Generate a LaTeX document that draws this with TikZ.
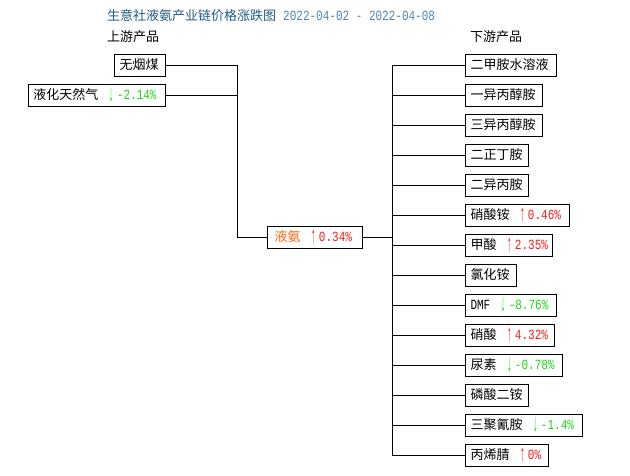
\documentclass[tikz,border=0pt]{standalone}
\usepackage{fontspec}
\usepackage{graphicx}
\setmainfont{Noto Sans CJK SC}
\newfontfamily\cjkf{Noto Sans CJK SC}
\newfontfamily\monof{Liberation Mono}
\definecolor{upred}{HTML}{FF1A1A}
\definecolor{dngreen}{HTML}{19D919}
\definecolor{ammonia}{HTML}{F26A10}
\definecolor{titledark}{HTML}{1E5C86}
\definecolor{titlelight}{HTML}{4A86B4}
\newcommand\cjkfs{\cjkf\fontsize{13pt}{15pt}\selectfont}
\newcommand\numt[1]{\scalebox{0.786}[1]{\monof\fontsize{14pt}{16pt}\selectfont #1}}
\newcommand\arrt[1]{\raisebox{-2pt}{\scalebox{0.38}[1]{\monof\fontsize{24pt}{26pt}\selectfont #1}}}
\newcommand\upv[1]{\hspace{10pt}{\color{upred}\arrt{↑}\hspace{3pt}\numt{#1}}}
\newcommand\dnv[1]{\hspace{10pt}{\color{dngreen}\arrt{↓}\hspace{3pt}\numt{#1}}}
\newcommand\bx[2]{\makebox[#1pt][l]{#2}}
\begin{document}
\begin{tikzpicture}[x=1pt,y=-1pt,
  box/.style={draw, line width=1pt, minimum height=22pt, inner xsep=5pt, inner ysep=0pt,
    text height=11pt, text depth=2pt, font=\cjkfs},
  lnk/.style={draw, line width=1pt},
  hdr/.style={anchor=base west, inner sep=0pt, font=\cjkfs}]
\useasboundingbox[fill=white] (0,0) rectangle (630,475);
% title and headers
\node[hdr] (title) at (107,20) {{\color{titledark}生意社液氨产业链价格涨跌图}\hspace{7pt}{\color{titlelight}\numt{2022-04-02 - 2022-04-08}}};
\node[hdr] (uphdr) at (107,41) {上游产品};
\node[hdr] (dnhdr) at (470,41) {下游产品};
% upstream
\node[box, anchor=east] (u1) at (166,65) {\bx{41}{无烟煤}};
\node[box, anchor=east] (u2) at (166,95) {\bx{127}{液化天然气\dnv{-2.14\%}}};
% centre
\node[box, anchor=west] (ya) at (267,237) {\bx{85}{\hspace{2pt}{\color{ammonia}液氨}\upv{0.34\%}}};
% downstream
\node[box, anchor=west] (d1) at (465,65) {\bx{81}{二甲胺水溶液}};
\node[box, anchor=west] (d2) at (465,95) {\bx{67}{一异丙醇胺}};
\node[box, anchor=west] (d3) at (465,125) {\bx{67}{三异丙醇胺}};
\node[box, anchor=west] (d4) at (465,155) {\bx{53}{二正丁胺}};
\node[box, anchor=west] (d5) at (465,185) {\bx{53}{二异丙胺}};
\node[box, anchor=west] (d6) at (465,215) {\bx{94}{硝酸铵\upv{0.46\%}}};
\node[box, anchor=west] (d7) at (465,245) {\bx{77}{甲酸\upv{2.35\%}}};
\node[box, anchor=west] (d8) at (465,275) {\bx{41}{氯化铵}};
\node[box, anchor=west] (d9) at (465,305) {\bx{81}{\numt{DMF}\dnv{-8.76\%}}};
\node[box, anchor=west] (d10) at (465,335) {\bx{79}{硝酸\upv{4.32\%}}};
\node[box, anchor=west] (d11) at (465,365) {\bx{87}{尿素\dnv{-0.78\%}}};
\node[box, anchor=west] (d12) at (465,395) {\bx{53}{磷酸二铵}};
\node[box, anchor=west] (d13) at (465,425) {\bx{107}{三聚氰胺\dnv{-1.4\%}}};
\node[box, anchor=west] (d14) at (465,455) {\bx{73}{丙烯腈\upv{0\%}}};
% connectors
\coordinate (L) at (237,237);
\coordinate (R) at (392,237);
\draw[lnk] (u1.east) -| (L) -- (ya.west);
\draw[lnk] (u2.east) -- (u2.east -| L);
\draw[lnk] (ya.east) -- (R);
\draw[lnk] (d1.west -| R) -- (d14.west -| R);
\foreach \d in {d1,d2,d3,d4,d5,d6,d7,d8,d9,d10,d11,d12,d13,d14}
  \draw[lnk] (\d.west -| R) -- (\d.west);
\end{tikzpicture}
\end{document}
